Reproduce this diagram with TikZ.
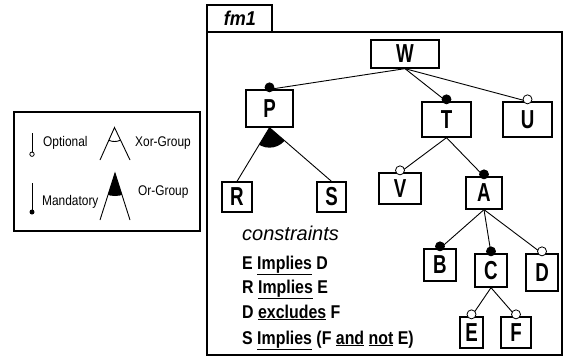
\documentclass[tikz,border=0pt]{standalone}
\usepackage{fontspec}
\setmainfont{Liberation Sans}
\newcommand{\featlbl}[1]{\scalebox{0.72}[1]{#1}}
\newcommand{\conslbl}[1]{\scalebox{0.86}[1]{#1}}
\newcommand{\leglbl}[1]{\scalebox{0.85}[1]{#1}}
\begin{document}
\begin{tikzpicture}[x=1pt,y=-1pt,
  feat/.style={draw,line width=1.3pt,inner sep=0pt,font=\bfseries\fontsize{26}{28}\selectfont},
  conn/.style={line width=0.9pt},
  mand/.style={fill=black,draw=black,line width=0.8pt},
  opt/.style={fill=white,draw=black,line width=0.8pt},
  lbl/.style={anchor=west,inner sep=0pt,font=\fontsize{14}{15}\selectfont},
  cons/.style={anchor=base west,inner sep=0pt,font=\bfseries\fontsize{18.5}{20}\selectfont}]
\useasboundingbox (0,0) rectangle (564,357);
% legend
\draw[line width=1.2pt] (14,112) rectangle (200,231);
\draw[line width=0.9pt] (32,133) -- (32,152);
\draw[line width=0.8pt,fill=white] (32,154.2) circle (2.2);
\node[lbl] (lopt) at (43,143) {\leglbl{Optional}};
\draw[line width=0.9pt] (32,183) -- (32,210);
\fill (32,212) circle (2.5);
\node[lbl] (lman) at (42,202) {\leglbl{Mandatory}};
\draw[line width=0.9pt] (100,160) -- (114.5,127.5) -- (130,160);
\begin{scope}
  \clip (114.5,127.5) -- (99,162) -- (131,162) -- cycle;
  \draw[line width=0.9pt] (114.5,127.5) circle (14);
\end{scope}
\node[lbl] (lxor) at (135,143) {\leglbl{Xor-Group}};
\draw[line width=0.9pt] (100,220) -- (115,173) -- (130,220);
\begin{scope}
  \clip (115,173) -- (99,223) -- (131,223) -- cycle;
  \fill (115,173) circle (23);
\end{scope}
\node[lbl] (lor) at (138,192) {\leglbl{Or-Group}};
% frame
\draw[line width=1.3pt] (207,5) rectangle (272,32);
\draw[line width=1.3pt] (207,32) rectangle (562,355);
\node[inner sep=0pt,font=\bfseries\itshape\fontsize{20}{22}\selectfont] (tab) at (240,18.5) {\scalebox{0.9}[1]{fm1}};
% features
\node[feat,minimum width=68pt,minimum height=28pt] (W) at (405,54) {\featlbl{W}};
\node[feat,minimum width=47pt,minimum height=37pt] (P) at (269.5,108.5) {\featlbl{P}};
\node[feat,minimum width=49pt,minimum height=35pt] (T) at (446.5,119.5) {\featlbl{T}};
\node[feat,minimum width=49pt,minimum height=35pt] (U) at (527.5,119.5) {\featlbl{U}};
\node[feat,minimum width=30pt,minimum height=30pt] (R) at (237,197) {\featlbl{R}};
\node[feat,minimum width=29pt,minimum height=30pt] (S) at (331.5,197) {\featlbl{S}};
\node[feat,minimum width=42pt,minimum height=31pt] (V) at (400,188.5) {\featlbl{V}};
\node[feat,minimum width=36pt,minimum height=32pt] (A) at (484,193) {\featlbl{A}};
\node[feat,minimum width=32pt,minimum height=32pt] (B) at (440,265) {\featlbl{B}};
\node[feat,minimum width=32pt,minimum height=33pt] (C) at (491,270.5) {\featlbl{C}};
\node[feat,minimum width=32pt,minimum height=37pt] (D) at (542,272.5) {\featlbl{D}};
\node[feat,minimum width=23pt,minimum height=31pt] (E) at (471.5,332.5) {\featlbl{E}};
\node[feat,minimum width=30pt,minimum height=31pt] (F) at (516,332.5) {\featlbl{F}};
% connectors
\foreach \p/\c/\k in {W/P/mand,W/T/mand,W/U/opt,T/V/opt,T/A/mand,A/B/mand,A/C/mand,A/D/opt,C/E/opt,C/F/opt}{
  \draw[conn] (\p.south) -- (\c.north);
  \draw[\k] ([yshift=2pt]\c.north) circle (4.5);
}
\draw[conn] (P.south) -- (R.north);
\draw[conn] (P.south) -- (S.north);
\begin{scope}
  \clip (P.south) -- (R.north) -- (S.north) -- cycle;
  \fill (P.south) circle (20);
\end{scope}
% constraints
\node[anchor=base west,inner sep=0pt,font=\itshape\fontsize{20}{22}\selectfont] (ct) at (242,240) {constraints};
\node[cons] (c1) at (242,269) {\conslbl{E \underline{Implies} D}};
\node[cons] (c2) at (242,293) {\conslbl{R \underline{Implies} E}};
\node[cons] (c3) at (242,318) {\conslbl{D \underline{excludes} F}};
\node[cons] (c4) at (242,344) {\conslbl{S \underline{Implies} (F \underline{and} \underline{not} E)}};
\end{tikzpicture}
\end{document}
